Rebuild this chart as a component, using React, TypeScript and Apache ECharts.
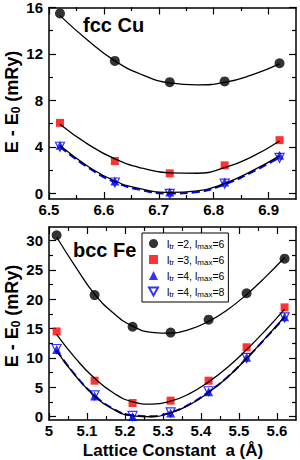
import React, { useEffect, useRef } from 'react';
import * as echarts from 'echarts';

const FONT = '"Liberation Sans", Arial, Helvetica, sans-serif';

// ---- fcc Cu (top panel) ----
const cuX = [6.52, 6.62, 6.72, 6.82, 6.92];
const cuTr2 = [15.49, 11.4, 9.57, 9.63, 11.2];
const cuTr3 = [6.06, 2.77, 1.71, 2.4, 4.57];
const cuTr4L6 = [4.14, 1.06, 0.11, 0.97, 3.26];
const cuTr4L8 = [4.0, 0.92, -0.05, 0.82, 3.05];
const cuFitX = [6.52, 6.57, 6.62, 6.67, 6.72, 6.77, 6.82, 6.87, 6.92];
const cuFitTr2 = [15.3, 13.2, 11.4, 10.2, 9.5, 9.34, 9.55, 10.2, 11.15];
const cuFitTr3 = [5.95, 4.25, 2.95, 2.15, 1.75, 1.72, 2.2, 3.15, 4.5];
const cuFitTr4L6 = [4.1, 2.35, 1.05, 0.35, 0.07, 0.2, 0.85, 1.92, 3.22];
const cuFitTr4L8 = [4.0, 2.25, 0.95, 0.25, -0.03, 0.1, 0.75, 1.82, 3.08];
const cuXTicks = [6.5, 6.6, 6.7, 6.8, 6.9];
const cuXMinor = [6.55, 6.65, 6.75, 6.85];
const cuYTicks = [0, 4, 8, 12, 16];
const cuYMinor = [2, 6, 10, 14];

// ---- bcc Fe (bottom panel) ----
const feX = [5.02, 5.12, 5.22, 5.32, 5.42, 5.52, 5.62];
const feTr2 = [30.9, 20.7, 15.3, 14.3, 16.5, 21.0, 26.9];
const feTr3 = [14.5, 6.1, 2.3, 2.7, 6.1, 11.8, 18.6];
const feTr4L6 = [11.4, 3.5, 0.0, 0.6, 4.2, 10.1, 17.0];
const feTr4L8 = [11.5, 3.6, 0.1, 0.7, 4.3, 10.0, 16.9];
const feFitX = [5.02, 5.07, 5.12, 5.17, 5.22, 5.27, 5.32, 5.37, 5.42, 5.47, 5.52, 5.57, 5.62];
const feFitTr2 = [30.6, 25.5, 20.85, 17.6, 15.4, 14.35, 14.2, 14.85, 16.2, 18.2, 20.8, 23.8, 27.1];
const feFitTr3 = [14.0, 9.9, 6.5, 4.0, 2.5, 2.1, 2.6, 3.9, 5.9, 8.4, 11.4, 14.7, 18.3];
const feFitTr4L6 = [11.2, 6.9, 3.5, 1.2, 0.1, -0.05, 0.6, 2.0, 4.1, 6.7, 9.9, 13.4, 17.0];
const feFitTr4L8 = [11.3, 7.0, 3.6, 1.3, 0.2, 0.05, 0.7, 2.1, 4.2, 6.75, 9.9, 13.35, 16.9];
const feXTicks = [5, 5.1, 5.2, 5.3, 5.4, 5.5, 5.6];
const feXMinor = [5.05, 5.15, 5.25, 5.35, 5.45, 5.55];
const feYTicks = [0, 5, 10, 15, 20, 25, 30];
const feYMinor = [2.5, 7.5, 12.5, 17.5, 22.5, 27.5];

const seriesNames = ['tr2', 'tr3', 'tr4l6', 'tr4l8'];
const legendLabels: Record<string, string> = {
  tr2: '{t|l}{s|tr}{t| =2, l}{s|max}{t|=6}',
  tr3: '{t|l}{s|tr}{t| =3, l}{s|max}{t|=6}',
  tr4l6: '{t|l}{s|tr}{t| =4, l}{s|max}{t|=6}',
  tr4l8: '{t|l}{s|tr}{t| =4, l}{s|max}{t|=8}',
};

const DOWN_TRI = 'path://M0,0L10,0L5,9Z';

function mkAxis(kind: 'x' | 'y', grid: number, pos: string, min: number, max: number,
  ticks: number[], len: number, labels: boolean, line: boolean) {
  return {
    type: 'value', gridIndex: grid, position: pos, min, max,
    axisLine: { show: line, onZero: false, lineStyle: { color: '#000', width: 1.5 } },
    axisTick: { show: true, inside: true, length: len, customValues: ticks, lineStyle: { color: '#000', width: 1.2 } },
    axisLabel: {
      show: labels, customValues: ticks, color: '#000', fontSize: 15, fontWeight: 'bold',
      fontFamily: FONT, margin: kind === 'x' ? 3 : 6, lineHeight: 15,
    },
    splitLine: { show: false },
  };
}

function axesFor(kind: 'x' | 'y', grid: number, min: number, max: number, major: number[], minor: number[]) {
  const p1 = kind === 'x' ? 'bottom' : 'left';
  const p2 = kind === 'x' ? 'top' : 'right';
  return [
    mkAxis(kind, grid, p1, min, max, major, 7, true, true),
    mkAxis(kind, grid, p2, min, max, major, 7, false, true),
    mkAxis(kind, grid + 1, p1, min, max, minor, 4, false, false),
    mkAxis(kind, grid + 1, p2, min, max, minor, 4, false, false),
  ];
}

const pairs = (xs: number[], ys: number[]) => xs.map((x, i) => [x, ys[i]]);

function panelSeries(axisIndex: number, x: number[], fx: number[],
  d2: number[], d3: number[], d46: number[], d48: number[],
  f2: number[], f3: number[], f46: number[], f48: number[]) {
  const fit = (ys: number[], color: string, type: string, width: number) => ({
    type: 'line', xAxisIndex: axisIndex, yAxisIndex: axisIndex, data: pairs(fx, ys),
    smooth: true, showSymbol: false, silent: true,
    lineStyle: { color, type, width },
  });
  return [
    fit(f48, '#0000ff', 'dashed', 2),
    fit(f2, '#000', 'solid', 1.3),
    fit(f3, '#000', 'solid', 1.3),
    fit(f46, '#000', 'solid', 1.3),
    {
      name: 'tr2', type: 'scatter', xAxisIndex: axisIndex, yAxisIndex: axisIndex, data: pairs(x, d2),
      symbol: 'circle', symbolSize: 10, itemStyle: { color: '#000' },
    },
    {
      name: 'tr3', type: 'scatter', xAxisIndex: axisIndex, yAxisIndex: axisIndex, data: pairs(x, d3),
      symbol: 'rect', symbolSize: 8, itemStyle: { color: '#ff0000' },
    },
    {
      name: 'tr4l6', type: 'scatter', xAxisIndex: axisIndex, yAxisIndex: axisIndex, data: pairs(x, d46),
      symbol: 'triangle', symbolSize: 9, itemStyle: { color: '#0000ff' },
    },
    {
      name: 'tr4l8', type: 'scatter', xAxisIndex: axisIndex, yAxisIndex: axisIndex, data: pairs(x, d48),
      symbol: DOWN_TRI, symbolSize: 9,
      itemStyle: { color: 'rgba(255,255,255,0)', borderColor: '#0000ff', borderWidth: 1.2 },
    },
  ];
}

const yTitle = (y: number) => ({
  type: 'text', x: 12, y, rotation: Math.PI / 2, silent: true,
  style: {
    text: '{a|E - E}{s|0}{a| (mRy)}',
    align: 'center', verticalAlign: 'middle', fill: '#000',
    rich: {
      a: { fontSize: 18, fontWeight: 'bold', fontFamily: FONT, lineHeight: 20 },
      s: { fontSize: 12, fontWeight: 'bold', fontFamily: FONT, lineHeight: 12, padding: [7, 0, 0, 0], verticalAlign: 'bottom' },
    },
  },
});

const option = {
  animation: false,
  backgroundColor: '#fff',
  grid: [
    { left: 49, top: 7, width: 247, height: 192 },
    { left: 49, top: 7, width: 247, height: 192 },
    { left: 49, top: 227, width: 247, height: 193 },
    { left: 49, top: 227, width: 247, height: 193 },
  ],
  xAxis: [
    ...axesFor('x', 0, 6.5, 6.95, cuXTicks, cuXMinor),
    ...axesFor('x', 2, 5.0, 5.65, feXTicks, feXMinor),
  ],
  yAxis: [
    ...axesFor('y', 0, -0.5, 16, cuYTicks, cuYMinor),
    ...axesFor('y', 2, -0.6, 32.3, feYTicks, feYMinor),
  ],
  legend: {
    orient: 'vertical', left: 142, top: 233,
    data: seriesNames,
    padding: [4, 4, 4, 6], itemGap: 3, itemWidth: 9, itemHeight: 9,
    borderColor: '#000', borderWidth: 1, backgroundColor: '#fff', z: 10,
    formatter: (name: string) => legendLabels[name],
    textStyle: {
      fontFamily: FONT, fontSize: 10, color: '#000', padding: [0, 0, 0, 4],
      rich: {
        t: { fontFamily: FONT, fontSize: 10.5, color: '#000', lineHeight: 13 },
        s: { fontFamily: FONT, fontSize: 8, color: '#000', lineHeight: 8, padding: [5, 0, 0, 0], verticalAlign: 'bottom' },
      },
    },
  },
  graphic: [
    yTitle(102),
    yTitle(316),
    {
      type: 'text', x: 83, y: 25, silent: true,
      style: { text: 'fcc Cu', fontSize: 20, fontWeight: 'bold', fontFamily: FONT, fill: '#000', verticalAlign: 'middle' },
    },
    {
      type: 'text', x: 73, y: 250, silent: true,
      style: { text: 'bcc Fe', fontSize: 20, fontWeight: 'bold', fontFamily: FONT, fill: '#000', verticalAlign: 'middle' },
    },
    {
      type: 'text', x: 173, y: 450, silent: true,
      style: { text: 'Lattice Constant  a (Å)', fontSize: 17, lineHeight: 17, fontWeight: 'bold', fontFamily: FONT, fill: '#000', align: 'center', verticalAlign: 'middle' },
    },
  ],
  series: [
    ...panelSeries(0, cuX, cuFitX, cuTr2, cuTr3, cuTr4L6, cuTr4L8, cuFitTr2, cuFitTr3, cuFitTr4L6, cuFitTr4L8),
    ...panelSeries(4, feX, feFitX, feTr2, feTr3, feTr4L6, feTr4L8, feFitTr2, feFitTr3, feFitTr4L6, feFitTr4L8),
  ],
};

export default function App() {
  const ref = useRef<HTMLDivElement>(null);
  useEffect(() => {
    document.body.style.margin = '0';
    const chart = echarts.init(ref.current!, null, { renderer: 'svg' });
    chart.setOption(option as any);
    return () => chart.dispose();
  }, []);
  return <div ref={ref} style={{ width: 300, height: 460 }} />;
}
